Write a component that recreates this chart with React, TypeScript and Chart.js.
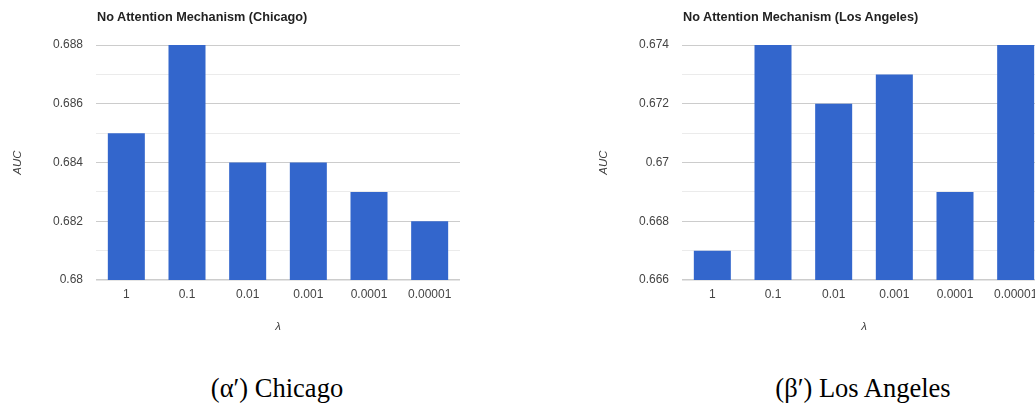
import React, { useEffect, useRef } from "react";
import { Chart, registerables } from "chart.js";

Chart.register(...registerables);

const lambdaLabels = ["1", "0.1", "0.01", "0.001", "0.0001", "0.00001"];
const chicagoAUC = [0.685, 0.688, 0.684, 0.684, 0.683, 0.682];
const laAUC = [0.667, 0.674, 0.672, 0.673, 0.669, 0.674];
const chicagoRange = [0.68, 0.688];
const laRange = [0.666, 0.674];
const chartTitles = ["No Attention Mechanism (Chicago)", "No Attention Mechanism (Los Angeles)"];
const captions = ["(α′) Chicago", "(β′) Los Angeles"];
const yAxisTitle = "AUC";
const xAxisTitle = "λ";

const SANS = "'Liberation Sans', Arial, sans-serif";
const SERIF = "'Liberation Serif', 'Times New Roman', serif";

const CANVAS_H = 340;
const AREA_TOP = 45;
const AREA_BOTTOM = 280;
const Y_AXIS_W = 96;

type BarProps = {
  left: number;
  areaWidth: number;
  values: number[];
  range: number[];
  title: string;
};

function BarChart({ left, areaWidth, values, range, title }: BarProps) {
  const ref = useRef<HTMLCanvasElement | null>(null);
  const canvasW = Y_AXIS_W + areaWidth + 20;

  useEffect(() => {
    if (!ref.current) return;
    const [min, max] = range;
    const chart = new Chart(ref.current, {
      type: "bar",
      data: {
        labels: lambdaLabels,
        datasets: [
          {
            data: values,
            backgroundColor: "#3366cc",
            borderWidth: 0,
            barPercentage: 0.61,
            categoryPercentage: 1,
          },
        ],
      },
      options: {
        responsive: false,
        animation: false,
        devicePixelRatio: 1,
        layout: { padding: { top: AREA_TOP, right: 20, left: 0, bottom: 0 } },
        plugins: { legend: { display: false }, tooltip: { enabled: false }, title: { display: false } },
        scales: {
          x: {
            afterFit: (s: any) => {
              s.height = CANVAS_H - AREA_BOTTOM;
            },
            grid: { display: false, drawTicks: false },
            border: { display: false },
            ticks: { color: "#444", font: { family: SANS, size: 12 }, padding: 7, autoSkip: false, maxRotation: 0 },
            title: {
              display: true,
              text: xAxisTitle,
              color: "#444",
              font: { family: SANS, size: 11.5, style: "italic" },
              padding: { top: 0, bottom: 6 },
            },
          },
          y: {
            min,
            max,
            afterFit: (s: any) => {
              s.width = Y_AXIS_W;
            },
            grid: {
              drawTicks: false,
              color: (ctx: any) => {
                const v = ctx.tick ? ctx.tick.value : min;
                const k = Math.round((v - min) / 0.001);
                if (k === 0) return "#cccccc";
                return k % 2 === 0 ? "#cccccc" : "#ebebeb";
              },
              lineWidth: (ctx: any) => (ctx.index === 0 ? 1.5 : 1),
            },
            border: { display: false },
            ticks: {
              stepSize: 0.001,
              autoSkip: false,
              color: "#444",
              padding: 13,
              font: { family: SANS, size: 12 },
              callback: (v: any) => {
                const k = Math.round((Number(v) - min) / 0.001);
                if (k % 2 !== 0) return "";
                return Number(v).toFixed(3).replace(/0+$/, "");
              },
            },
            title: {
              display: true,
              text: yAxisTitle,
              color: "#444",
              font: { family: SANS, size: 11.5, style: "italic" },
              padding: { top: 11, bottom: 0 },
            },
          },
        },
      },
    });
    return () => chart.destroy();
  }, []);

  return (
    <>
      <canvas
        ref={ref}
        width={canvasW}
        height={CANVAS_H}
        style={{ position: "absolute", left, top: 0, width: canvasW, height: CANVAS_H }}
      />
      <div
        style={{
          position: "absolute",
          left: left + Y_AXIS_W + 1,
          top: 9,
          fontFamily: SANS,
          fontWeight: "bold",
          fontSize: 12.7,
          lineHeight: "16px",
          color: "#222",
          whiteSpace: "nowrap",
        }}
      >
        {title}
      </div>
    </>
  );
}

function Caption({ center, text }: { center: number; text: string }) {
  return (
    <div
      style={{
        position: "absolute",
        left: center - 200,
        width: 400,
        top: 373,
        textAlign: "center",
        fontFamily: SERIF,
        fontSize: 26.5,
        lineHeight: "30px",
        color: "#000",
        whiteSpace: "nowrap",
      }}
    >
      {text}
    </div>
  );
}

export default function App() {
  return (
    <div
      style={{
        position: "fixed",
        left: 0,
        top: 0,
        width: 1035,
        height: 406,
        overflow: "hidden",
        background: "#fff",
      }}
    >
      <BarChart left={0} areaWidth={364} values={chicagoAUC} range={chicagoRange} title={chartTitles[0]} />
      <BarChart left={586} areaWidth={364} values={laAUC} range={laRange} title={chartTitles[1]} />
      <Caption center={277} text={captions[0]} />
      <Caption center={863} text={captions[1]} />
    </div>
  );
}
